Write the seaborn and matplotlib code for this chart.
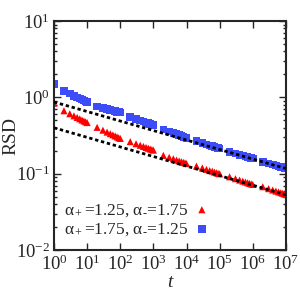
import numpy as np
import pandas as pd
import matplotlib
matplotlib.use("Agg")
import matplotlib.pyplot as plt
import seaborn as sns

# ---------------------------------------------------------
# Data
# ---------------------------------------------------------

multipliers = [2, 3, 4, 5, 6, 7, 8, 9, 10]
decades = [1, 10, 100, 1000, 10000, 100000, 1000000]
t = [1] + [m * d for d in decades for m in multipliers]

rsd_a = [
    0.841,
    0.668, 0.611, 0.573, 0.546, 0.524, 0.506, 0.491, 0.479, 0.468,
    0.405, 0.372, 0.351, 0.335, 0.323, 0.313, 0.304, 0.296, 0.290,
    0.263, 0.247, 0.236, 0.228, 0.221, 0.216, 0.211, 0.207, 0.204,
    0.174, 0.164, 0.157, 0.151, 0.147, 0.144, 0.141, 0.139, 0.136,
    0.126, 0.119, 0.114, 0.110, 0.108, 0.105, 0.103, 0.101, 0.100,
    0.0912, 0.0861, 0.0826, 0.0800, 0.0779, 0.0762, 0.0747, 0.0735, 0.0724,
    0.0676, 0.0638, 0.0612, 0.0593, 0.0578, 0.0565, 0.0554, 0.0545, 0.0537,
]

rsd_b = [
    1.49,
    1.22, 1.12, 1.05, 1.00, 0.966, 0.935, 0.910, 0.887, 0.867,
    0.762, 0.726, 0.703, 0.684, 0.670, 0.658, 0.647, 0.638, 0.631,
    0.556, 0.524, 0.501, 0.484, 0.471, 0.460, 0.451, 0.444, 0.437,
    0.380, 0.356, 0.341, 0.329, 0.320, 0.312, 0.305, 0.300, 0.295,
    0.267, 0.253, 0.243, 0.235, 0.230, 0.224, 0.220, 0.217, 0.214,
    0.194, 0.184, 0.177, 0.173, 0.169, 0.166, 0.163, 0.161, 0.158,
    0.143, 0.136, 0.132, 0.128, 0.125, 0.123, 0.121, 0.119, 0.117,
]

# fitted power-law guides (endpoints)
fit_t = [1, 1e7]
fit_upper = [0.87, 0.117]
fit_lower = [0.40, 0.053]

label_a = r"α$_+$=1.25, α$_{\text{-}}$=1.75"
label_b = r"α$_+$=1.75, α$_{\text{-}}$=1.25"

df_a = pd.DataFrame({"t": t, "RSD": rsd_a})
df_b = pd.DataFrame({"t": t, "RSD": rsd_b})

# ---------------------------------------------------------
# Style
# ---------------------------------------------------------

sns.set_style("ticks")
plt.rcParams["font.family"] = ["Liberation Serif", "DejaVu Serif"]
plt.rcParams["mathtext.fontset"] = "custom"
plt.rcParams["mathtext.rm"] = "Liberation Serif"
plt.rcParams["mathtext.it"] = "Liberation Serif:italic"
plt.rcParams["mathtext.default"] = "regular"

fig = plt.figure(figsize=(3.0, 2.96), dpi=100)
ax = fig.add_axes([0.18, 0.155, 0.773, 0.774])

sns.scatterplot(
    data=df_b, x="t", y="RSD", ax=ax,
    marker="s", s=30, color="#3b4cf8", edgecolor="none",
    label=label_b, zorder=2,
)
sns.scatterplot(
    data=df_a, x="t", y="RSD", ax=ax,
    marker="^", s=26, color="#ff0000", edgecolor="none",
    label=label_a, zorder=2,
)

ax.plot(fit_t, fit_upper, color="black", lw=2, dashes=(1.2, 1.0), zorder=3)
ax.plot(fit_t, fit_lower, color="black", lw=2, dashes=(1.2, 1.0), zorder=3)

ax.set_xscale("log")
ax.set_yscale("log")
ax.set_xlim(1, 1e7)
ax.set_ylim(1e-2, 10)
ax.set_xticks([10 ** k for k in range(8)])
ax.set_yticks([1e-2, 1e-1, 1, 10])

ax.set_xlabel("t", fontsize=14, fontstyle="italic", labelpad=0)
ax.set_ylabel("RSD", fontsize=14)
ax.yaxis.set_label_coords(-0.15, 0.5)

for side in ["top", "right", "bottom", "left"]:
    ax.spines[side].set_visible(True)
    ax.spines[side].set_linewidth(1.5)

ax.tick_params(which="both", direction="in", top=True, right=True,
               width=1.0, labelsize=13.5)
ax.tick_params(which="major", length=5, pad=3)
ax.tick_params(which="minor", length=2.5)

handles, labels = ax.get_legend_handles_labels()
ax.legend(
    handles[::-1], labels[::-1],
    loc="lower left", bbox_to_anchor=(-0.01, 0.0),
    frameon=False, markerfirst=False, fontsize=12.5,
    handletextpad=0.2, handlelength=1.2, labelspacing=0.15,
    borderaxespad=0.3,
)

plt.savefig("out.png", dpi=100)
plt.close()
